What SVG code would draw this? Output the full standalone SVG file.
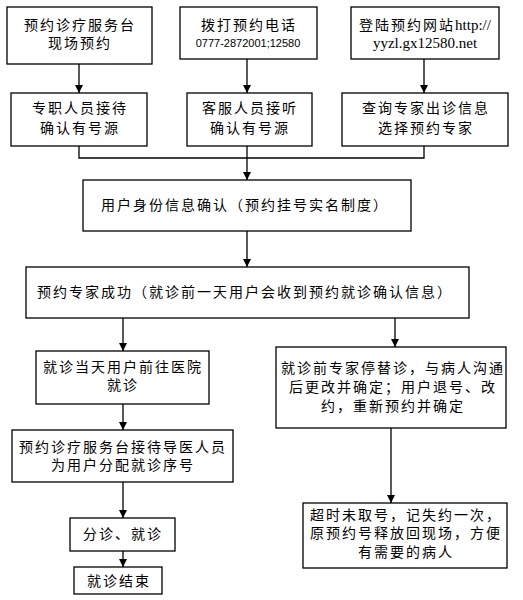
<svg xmlns="http://www.w3.org/2000/svg" width="523" height="600" viewBox="0 0 523 600">
<defs>
<marker id="ah" markerWidth="8" markerHeight="8" refX="8" refY="4" orient="auto" markerUnits="userSpaceOnUse">
<path d="M0,0 L8,4 L0,8 Z" fill="#000"/>
</marker>
<style>
rect{fill:#fff;stroke:#000;stroke-width:1.3}
text{font-family:"Liberation Serif","Noto Sans CJK SC",serif;font-size:14px;letter-spacing:2px;fill:#000;text-anchor:middle}
.sm{font-family:"Liberation Sans",sans-serif;font-size:11px;letter-spacing:0}
.ser{letter-spacing:0;font-size:15px}
.c path,.c line{stroke:#000;stroke-width:1.3;fill:none}
</style>
</defs>
<rect x="0" y="0" width="523" height="600" style="fill:#fff;stroke:none"/>
<g class="c" id="connectors">
<line x1="79" y1="64" x2="79" y2="93" marker-end="url(#ah)"/>
<line x1="247" y1="59" x2="247" y2="93" marker-end="url(#ah)"/>
<line x1="424" y1="59" x2="424" y2="93" marker-end="url(#ah)"/>
<path d="M79,146 V158 H424 V146"/>
<line x1="247" y1="146" x2="247" y2="180" marker-end="url(#ah)"/>
<line x1="247" y1="231" x2="247" y2="267" marker-end="url(#ah)"/>
<line x1="123" y1="318" x2="123" y2="351" marker-end="url(#ah)"/>
<line x1="395" y1="318" x2="395" y2="347" marker-end="url(#ah)"/>
<line x1="123" y1="404" x2="123" y2="430" marker-end="url(#ah)"/>
<line x1="123" y1="482" x2="123" y2="518" marker-end="url(#ah)"/>
<line x1="123" y1="551" x2="123" y2="567" marker-end="url(#ah)"/>
<line x1="391" y1="428" x2="391" y2="503" marker-end="url(#ah)"/>
</g>
<g id="nA"><rect x="7" y="7" width="145" height="57"/><text x="80" y="30">预约诊疗服务台</text><text x="80" y="48">现场预约</text></g>
<g id="nB"><rect x="180" y="7" width="137" height="52"/><text x="249" y="30">拨打预约电话</text><text class="sm" x="248" y="47">0777-2872001;12580</text></g>
<g id="nC"><rect x="351" y="7" width="148" height="52"/><text x="425" y="30"><tspan>登陆预约网站</tspan><tspan class="ser">http://</tspan></text><text class="ser" x="425" y="48">yyzl.gx12580.net</text></g>
<g id="nD"><rect x="11" y="93" width="136" height="53"/><text x="80" y="113">专职人员接待</text><text x="80" y="133">确认有号源</text></g>
<g id="nE"><rect x="187" y="93" width="125" height="53"/><text x="250" y="113">客服人员接听</text><text x="250" y="133">确认有号源</text></g>
<g id="nF"><rect x="342" y="93" width="166" height="53"/><text x="426" y="113">查询专家出诊信息</text><text x="426" y="133">选择预约专家</text></g>
<g id="nG"><rect x="83" y="180" width="328" height="51"/><text x="245" y="210">用户身份信息确认（预约挂号实名制度）</text></g>
<g id="nH"><rect x="26" y="267" width="443" height="51"/><text x="245" y="297">预约专家成功（就诊前一天用户会收到预约就诊确认信息）</text></g>
<g id="nI"><rect x="36" y="351" width="173" height="53"/><text x="123" y="372">就诊当天用户前往医院</text><text x="123" y="390">就诊</text></g>
<g id="nJ"><rect x="276" y="347" width="230" height="81"/><text x="393" y="373">就诊前专家停替诊，与病人沟通</text><text x="393" y="392">后更改并确定；用户退号、改</text><text x="393" y="411">约，重新预约并确定</text></g>
<g id="nK"><rect x="12" y="430" width="221" height="52"/><text x="123" y="452">预约诊疗服务台接待导医人员</text><text x="123" y="470">为用户分配就诊序号</text></g>
<g id="nL"><rect x="70" y="518" width="105" height="33"/><text x="123" y="539">分诊、就诊</text></g>
<g id="nM"><rect x="74" y="567" width="88" height="27"/><text x="119" y="586">就诊结束</text></g>
<g id="nN"><rect x="303" y="503" width="204" height="65"/><text x="406" y="520">超时未取号，记失约一次，</text><text x="406" y="538">原预约号释放回现场，方便</text><text x="406" y="557">有需要的病人</text></g>
</svg>
